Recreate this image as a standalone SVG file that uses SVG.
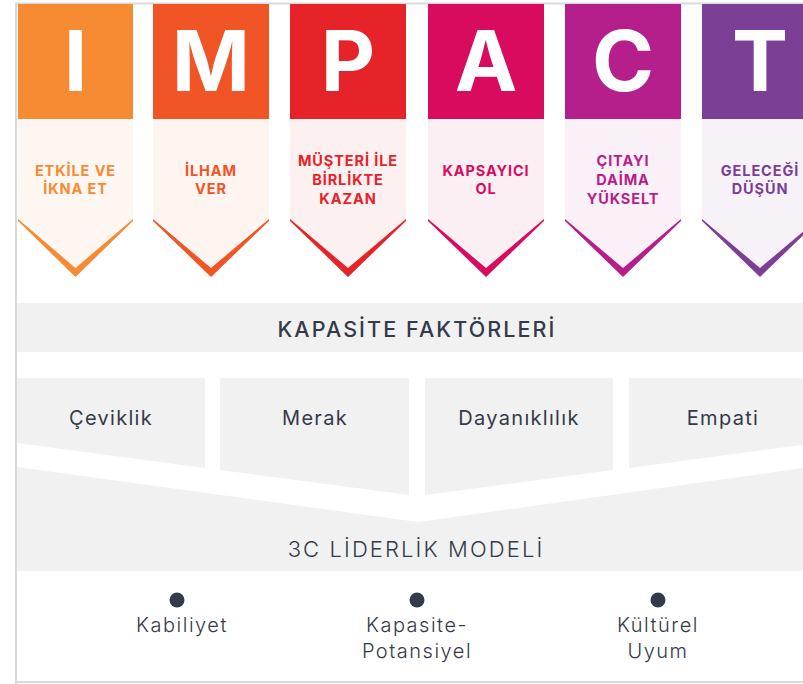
<svg xmlns="http://www.w3.org/2000/svg" width="803" height="684" viewBox="0 0 803 684">
<style>
.big{font-family:Inter,"Liberation Sans",sans-serif;font-weight:700;font-size:84px;fill:#fff;text-anchor:middle}
.lbl{font-family:Inter,"Liberation Sans",sans-serif;font-weight:700;font-size:14.5px;text-anchor:middle;letter-spacing:0.9px}
.head{font-family:Inter,"Liberation Sans",sans-serif;font-weight:500;font-size:21.5px;fill:#343a4a;text-anchor:middle;letter-spacing:2.1px}
.head2{font-family:Inter,"Liberation Sans",sans-serif;font-weight:300;font-size:22px;fill:#343a4a;text-anchor:middle;letter-spacing:2.1px}
.box{fill:#f1f1f1}
.bt{font-family:Inter,"Liberation Sans",sans-serif;font-weight:400;font-size:20px;fill:#343a4a;text-anchor:middle;letter-spacing:1.3px}
.bl{font-family:Inter,"Liberation Sans",sans-serif;font-weight:300;font-size:20px;fill:#343a4a;text-anchor:middle;letter-spacing:1.5px}
.dot{fill:#343a4a}
.soft{fill-opacity:0.065}
</style>
<rect x="0" y="0" width="803" height="684" fill="#fff"/>
<g id="frame" fill="none" stroke="#d9d9d9" stroke-width="2">
<path d="M16 684 V3.5 H803"/>
<path d="M16 682 H803"/>
</g>
<g id="col-I">
<rect x="18" y="4" width="115" height="115" fill="#F68B33"/>
<polygon class="soft" fill="#F68B33" points="18,119 133,119 133,220 75.5,268 18,220"/>
<polygon fill="#F68B33" points="18,219 75.5,268 133,219 133,221 75.5,277 18,221"/>
<text class="big" x="75.5" y="91">I</text>
<text class="lbl" fill="#F68B33" x="75.5" y="176">ETKİLE VE</text>
<text class="lbl" fill="#F68B33" x="75.5" y="194">İKNA ET</text>
</g>
<g id="col-M">
<rect x="153" y="4" width="116" height="115" fill="#F15425"/>
<polygon class="soft" fill="#F15425" points="153,119 269,119 269,220 211,268 153,220"/>
<polygon fill="#F15425" points="153,219 211,268 269,219 269,221 211,277 153,221"/>
<text class="big" x="211" y="91">M</text>
<text class="lbl" fill="#F15425" x="211" y="176">İLHAM</text>
<text class="lbl" fill="#F15425" x="211" y="194">VER</text>
</g>
<g id="col-P">
<rect x="290" y="4" width="116" height="115" fill="#E52329"/>
<polygon class="soft" fill="#E52329" points="290,119 406,119 406,220 348,268 290,220"/>
<polygon fill="#E52329" points="290,219 348,268 406,219 406,221 348,277 290,221"/>
<text class="big" x="348" y="91">P</text>
<text class="lbl" fill="#E52329" x="348" y="166">MÜŞTERİ İLE</text>
<text class="lbl" fill="#E52329" x="348" y="185">BİRLİKTE</text>
<text class="lbl" fill="#E52329" x="348" y="204">KAZAN</text>
</g>
<g id="col-A">
<rect x="428" y="4" width="116" height="115" fill="#D90B5E"/>
<polygon class="soft" fill="#D90B5E" points="428,119 544,119 544,220 486,268 428,220"/>
<polygon fill="#D90B5E" points="428,219 486,268 544,219 544,221 486,277 428,221"/>
<text class="big" x="486" y="91">A</text>
<text class="lbl" fill="#D90B5E" x="486" y="176">KAPSAYICI</text>
<text class="lbl" fill="#D90B5E" x="486" y="194">OL</text>
</g>
<g id="col-C">
<rect x="565" y="4" width="116" height="115" fill="#B51F8B"/>
<polygon class="soft" fill="#B51F8B" points="565,119 681,119 681,220 623,268 565,220"/>
<polygon fill="#B51F8B" points="565,219 623,268 681,219 681,221 623,277 565,221"/>
<text class="big" x="623" y="91">C</text>
<text class="lbl" fill="#B51F8B" x="623" y="166">ÇITAYI</text>
<text class="lbl" fill="#B51F8B" x="623" y="185">DAİMA</text>
<text class="lbl" fill="#B51F8B" x="623" y="204">YÜKSELT</text>
</g>
<g id="col-T">
<rect x="702" y="4" width="116" height="115" fill="#7C3F96"/>
<polygon class="soft" fill="#7C3F96" points="702,119 818,119 818,220 760,268 702,220"/>
<polygon fill="#7C3F96" points="702,219 760,268 818,219 818,221 760,277 702,221"/>
<text class="big" x="760" y="91">T</text>
<text class="lbl" fill="#7C3F96" x="760" y="176">GELECEĞİ</text>
<text class="lbl" fill="#7C3F96" x="760" y="194">DÜŞÜN</text>
</g>
<g id="kapasite-faktorleri">
<rect class="box" x="17" y="303" width="786" height="49"/>
<text class="head" x="417" y="337">KAPASİTE FAKTÖRLERİ</text>
</g>
<g id="ceviklik">
<polygon class="box" points="17,378 205,378 205,468 17,443"/>
<text class="bt" x="111" y="425">Çeviklik</text>
</g>
<g id="merak">
<polygon class="box" points="220,378 409,378 409,495 220,470"/>
<text class="bt" x="315" y="425">Merak</text>
</g>
<g id="dayaniklilik">
<polygon class="box" points="425,378 613,378 613,470 425,495"/>
<text class="bt" x="519" y="425">Dayanıklılık</text>
</g>
<g id="empati">
<polygon class="box" points="629,378 817,378 817,443 629,468"/>
<text class="bt" x="723" y="425">Empati</text>
</g>
<g id="liderlik-modeli">
<polygon class="box" points="17,467 418,522 803,468 803,571 17,571"/>
<text class="head2" x="416" y="557">3C LİDERLİK MODELİ</text>
</g>
<g id="kabiliyet">
<circle class="dot" cx="177" cy="600" r="7.5"/>
<text class="bl" x="182" y="632">Kabiliyet</text>
</g>
<g id="kapasite-potansiyel">
<circle class="dot" cx="417" cy="600" r="7.5"/>
<text class="bl" x="417" y="632">Kapasite-</text>
<text class="bl" x="417" y="658">Potansiyel</text>
</g>
<g id="kulturel-uyum">
<circle class="dot" cx="658" cy="600" r="7.5"/>
<text class="bl" x="658" y="632">Kültürel</text>
<text class="bl" x="658" y="658">Uyum</text>
</g>
</svg>
